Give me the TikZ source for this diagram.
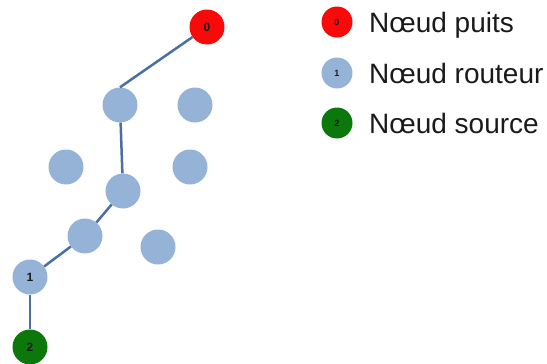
\documentclass[tikz,border=0pt]{standalone}
\usepackage{fontspec}
\setmainfont{Liberation Sans}
\definecolor{routeur}{HTML}{95B3D7}
\definecolor{puits}{HTML}{F80A0A}
\definecolor{source}{HTML}{0C780C}
\definecolor{lien}{HTML}{4A6FA0}
\definecolor{txt}{HTML}{1A1A1A}
\begin{document}
\begin{tikzpicture}[x=1pt,y=-1pt,
  nd/.style={circle,inner sep=0pt,minimum size=35pt,font=\fontsize{12}{12}\selectfont\bfseries,text=txt},
  rt/.style={nd,fill=routeur},
  pt/.style={nd,fill=puits},
  sc/.style={nd,fill=source},
  lg/.style={circle,inner sep=0pt,minimum size=31pt,font=\fontsize{9}{9}\selectfont\bfseries,text=txt},
  lab/.style={anchor=base west,inner sep=0pt,font=\fontsize{28}{28}\selectfont,text=txt},
  edge/.style={draw=lien,line width=2.5pt}]
\useasboundingbox (0,0) rectangle (547,364);
% network nodes
\node[pt] (n0) at (207,27) {0};
\node[rt] (a) at (120,105) {};
\node[rt] (b) at (195,105) {};
\node[rt] (c) at (66,167) {};
\node[rt] (d) at (190,167) {};
\node[rt] (e) at (123,191) {};
\node[rt] (f) at (85,236) {};
\node[rt] (g) at (158,247) {};
\node[rt] (n1) at (30,277) {1};
\node[sc] (n2) at (30,347) {2};
% links
\draw[edge] (n0) -- (a.north);
\draw[edge] (a) -- (e);
\draw[edge] (e) -- (f);
\draw[edge] (f) -- (n1);
\draw[edge] (n1) -- (n2);
% legend
\node[lg,fill=puits] (l0) at (337,22) {0};
\node[lg,fill=routeur] (l1) at (337,73) {1};
\node[lg,fill=source] (l2) at (337,123) {2};
\node[lab] (t0) at (369,32) {Nœud puits};
\node[lab] (t1) at (369,83) {Nœud routeur};
\node[lab] (t2) at (369,133) {Nœud source};
\end{tikzpicture}
\end{document}
